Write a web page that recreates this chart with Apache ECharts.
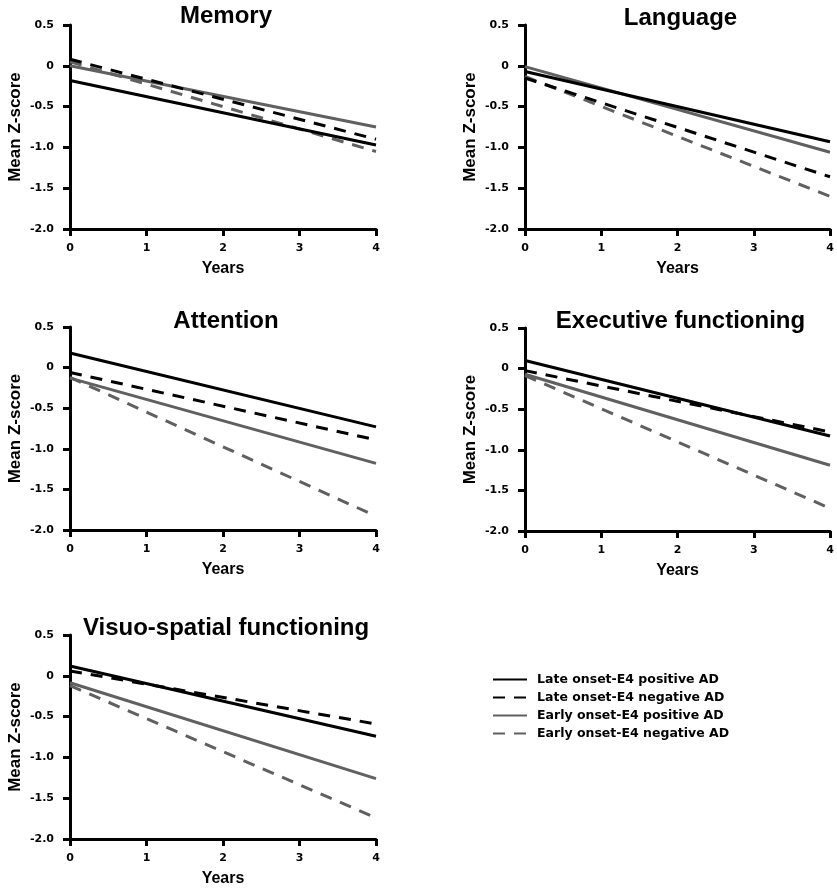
<!DOCTYPE html>
<html>
<head>
<meta charset="utf-8">
<script src="https://cdn.jsdelivr.net/npm/echarts@6/dist/echarts.min.js"></script>
<style>
html, body { margin: 0; padding: 0; background: #fff; }
#chart { width: 837px; height: 893px; }
</style>
</head>
<body>
<div id="chart"></div>
<script>
// panels and groups
var panelTitles = ['Memory', 'Language', 'Attention', 'Executive functioning', 'Visuo-spatial functioning'];
var groupNames = ['Late onset-E4 positive AD', 'Late onset-E4 negative AD', 'Early onset-E4 positive AD', 'Early onset-E4 negative AD'];
var years = [0, 4];
var yTicks = [-2.0, -1.5, -1.0, -0.5, 0, 0.5];

// mean z-score at year 0 and year 4, one pair per panel
var lateE4Pos = [[-0.18, -0.97], [-0.07, -0.93], [0.18, -0.73], [0.10, -0.83], [0.12, -0.74]];
var lateE4Neg = [[0.08, -0.90], [-0.15, -1.36], [-0.06, -0.89], [-0.025, -0.78], [0.06, -0.59]];
var earlyE4Pos = [[0.00, -0.75], [-0.01, -1.06], [-0.13, -1.18], [-0.07, -1.19], [-0.085, -1.26]];
var earlyE4Neg = [[0.05, -1.05], [-0.13, -1.60], [-0.12, -1.83], [-0.085, -1.72], [-0.12, -1.74]];

var groupData = [lateE4Pos, lateE4Neg, earlyE4Pos, earlyE4Neg];
var groupColor = ['#000000', '#000000', '#606060', '#606060'];
var groupDash = ['solid', [12, 9], 'solid', [12, 9]];

// layout of each panel
var grids = [
	{left: 70, top: 25, width: 306, height: 204},
	{left: 525, top: 25, width: 305, height: 204},
	{left: 70, top: 327, width: 306, height: 203},
	{left: 525, top: 328, width: 305, height: 203},
	{left: 70, top: 635, width: 306, height: 204}
];
var titleTops = [4, 6, 309, 309, 616];

var font = 'Liberation Sans, Arial, sans-serif';
var tickFont = 'DejaVu Sans, sans-serif';
var titles = [], xAxes = [], yAxes = [], series = [];

for (var p = 0; p < panelTitles.length; p++) {
	var g = grids[p];
	titles.push({
		text: panelTitles[p],
		left: g.left + g.width / 2 + 3,
		top: titleTops[p],
		padding: 0,
		textAlign: 'center',
		textStyle: {fontFamily: font, fontWeight: 'bold', fontSize: 24, color: '#000'}
	});
	xAxes.push({
		type: 'value', gridIndex: p, min: years[0], max: years[1], interval: 1,
		name: 'Years', nameLocation: 'middle', nameGap: 32,
		nameTextStyle: {fontFamily: font, fontWeight: 'bold', fontSize: 16, color: '#000'},
		axisLine: {onZero: false, lineStyle: {color: '#000', width: 3}},
		axisTick: {length: 7, lineStyle: {color: '#000', width: 3}},
		axisLabel: {fontFamily: tickFont, fontWeight: 'bold', fontSize: 11, color: '#000', margin: 14},
		splitLine: {show: false}
	});
	yAxes.push({
		type: 'value', gridIndex: p, min: yTicks[0], max: yTicks[yTicks.length - 1], interval: 0.5,
		name: 'Mean Z-score', nameLocation: 'middle', nameGap: 46,
		nameTextStyle: {fontFamily: font, fontWeight: 'bold', fontSize: 17, color: '#000'},
		axisLine: {show: true, onZero: false, lineStyle: {color: '#000', width: 3}},
		axisTick: {show: true, length: 7, lineStyle: {color: '#000', width: 3}},
		axisLabel: {
			fontFamily: tickFont, fontWeight: 'bold', fontSize: 11, color: '#000', margin: 16,
			formatter: function (v) { return v === 0 ? '0' : v.toFixed(1); }
		},
		splitLine: {show: false}
	});
	for (var s = 0; s < groupNames.length; s++) {
		series.push({
			name: groupNames[s],
			type: 'line',
			xAxisIndex: p,
			yAxisIndex: p,
			symbol: 'none',
			silent: true,
			z: 10 - s,
			lineStyle: {color: groupColor[s], width: 3, type: groupDash[s]},
			itemStyle: {color: groupColor[s]},
			data: [[years[0], groupData[s][p][0]], [years[1], groupData[s][p][1]]]
		});
	}
}

var option = {
	backgroundColor: '#fff',
	animation: false,
	title: titles,
	grid: grids,
	xAxis: xAxes,
	yAxis: yAxes,
	legend: {
		data: groupNames,
		orient: 'vertical',
		left: 487,
		top: 668,
		itemWidth: 34,
		itemHeight: 13,
		itemGap: 5,
		selectedMode: false,
		itemStyle: {opacity: 0},
		textStyle: {fontFamily: tickFont, fontWeight: 'bold', fontSize: 12.5, color: '#000', padding: [0, 0, 0, 5]}
	},
	series: series
};

var myChart = echarts.init(document.getElementById('chart'));
myChart.setOption(option, true);
</script>
</body>
</html>
